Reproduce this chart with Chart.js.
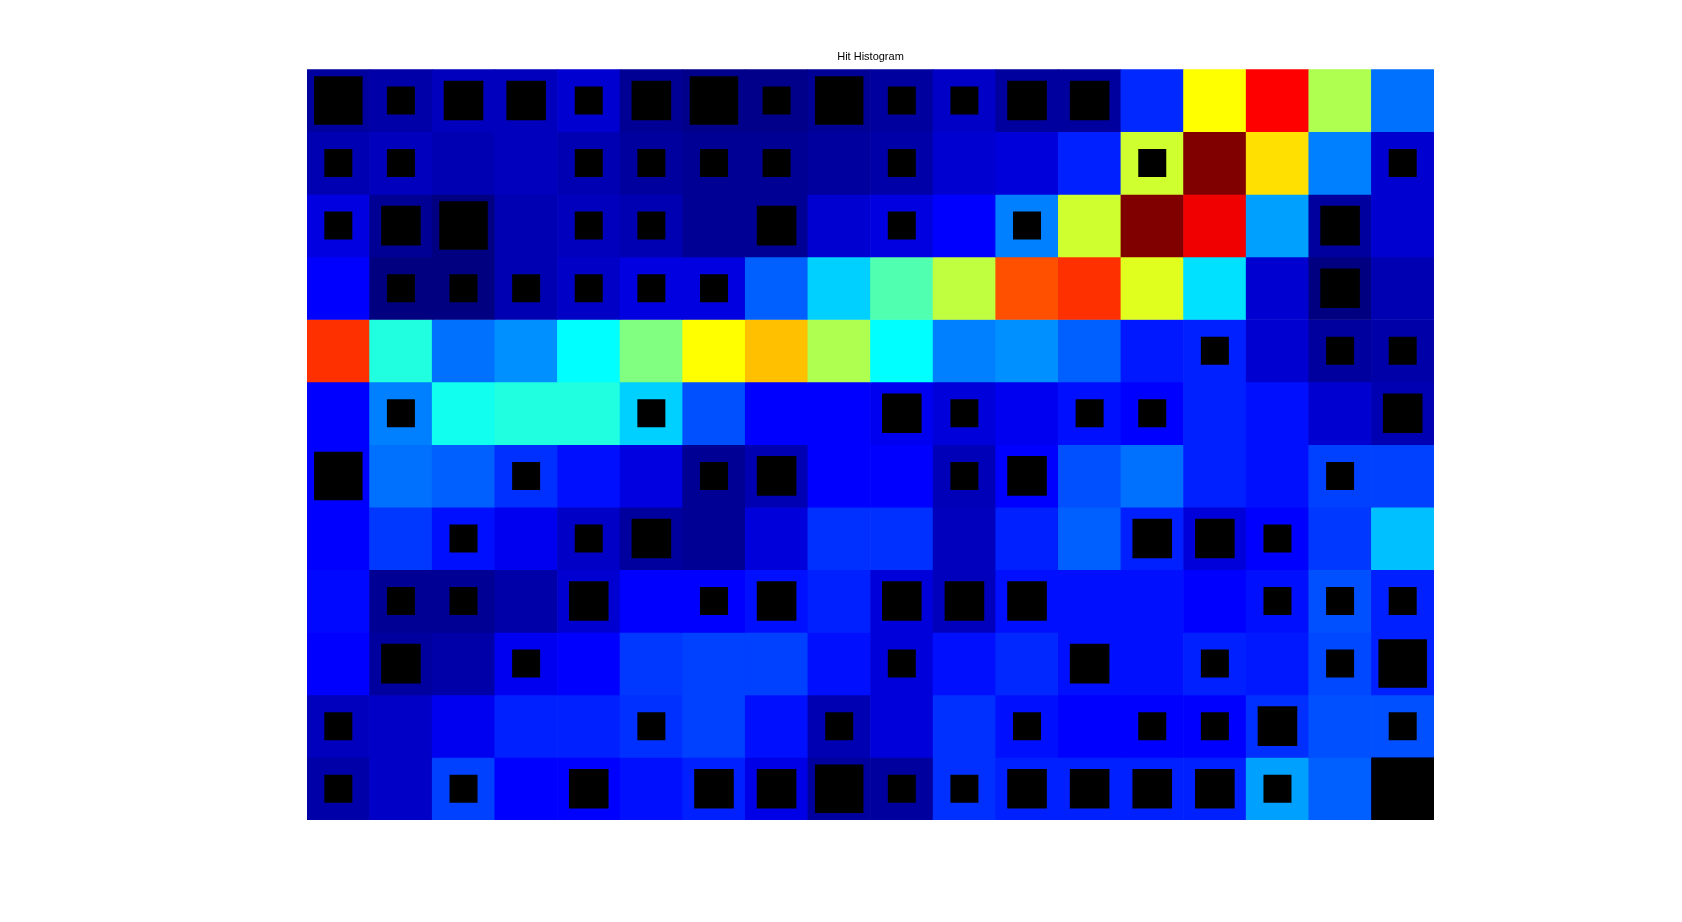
<!DOCTYPE html>
<html>
<head>
<meta charset="utf-8">
<title>Hit Histogram</title>
<script src="https://cdn.jsdelivr.net/npm/chart.js@4.4.0/dist/chart.umd.min.js"></script>
<style>
  html, body { margin: 0; padding: 0; background: #fff; }
  #wrap { width: 1682px; height: 922px; }
</style>
</head>
<body>
<div id="wrap"><canvas id="hitChart" width="1682" height="922"></canvas></div>
<script>
// map columns, left to right
var columns = ['1','2','3','4','5','6','7','8','9','10','11','12','13','14','15','16','17','18'];

// background value of each unit on the jet colour map (0 = dark blue, 1 = dark red), top row first
var shade = [
  [0.03,0.04,0.06,0.06,0.08,0.02,0.01,0.01,0.02,0.03,0.07,0.03,0.03,0.164,0.625,0.875,0.547,0.235],
  [0.05,0.06,0.05,0.06,0.05,0.03,0.02,0.02,0.03,0.04,0.08,0.09,0.156,0.579,1.0,0.655,0.25,0.08],
  [0.095,0.02,0.0,0.05,0.06,0.05,0.02,0.02,0.08,0.095,0.125,0.25,0.579,1.0,0.89,0.282,0.03,0.08],
  [0.125,0.0,0.0,0.05,0.07,0.095,0.095,0.219,0.329,0.453,0.563,0.797,0.828,0.595,0.345,0.08,0.0,0.05],
  [0.828,0.406,0.235,0.266,0.375,0.5,0.625,0.687,0.547,0.375,0.25,0.266,0.219,0.149,0.156,0.08,0.03,0.04],
  [0.125,0.25,0.391,0.406,0.406,0.329,0.203,0.125,0.125,0.11,0.09,0.11,0.141,0.125,0.156,0.141,0.08,0.05],
  [0.125,0.235,0.219,0.172,0.141,0.095,0.02,0.05,0.125,0.125,0.055,0.125,0.203,0.235,0.156,0.141,0.188,0.188],
  [0.125,0.18,0.141,0.11,0.07,0.03,0.02,0.09,0.172,0.172,0.06,0.156,0.219,0.156,0.09,0.125,0.18,0.313],
  [0.133,0.02,0.02,0.04,0.08,0.125,0.125,0.141,0.156,0.09,0.06,0.141,0.141,0.141,0.125,0.141,0.203,0.156],
  [0.125,0.03,0.04,0.11,0.125,0.18,0.188,0.188,0.141,0.09,0.141,0.164,0.141,0.141,0.156,0.149,0.196,0.156],
  [0.06,0.07,0.11,0.156,0.156,0.172,0.188,0.141,0.05,0.09,0.172,0.141,0.125,0.125,0.125,0.172,0.203,0.203],
  [0.04,0.07,0.188,0.125,0.125,0.141,0.156,0.10,0.03,0.03,0.172,0.156,0.156,0.156,0.156,0.282,0.219,0.03]
];

// number of hits per unit, top row first
var hits = [
  [3,1,2,2,1,2,3,1,3,1,1,2,2,0,0,0,0,0],
  [1,1,0,0,1,1,1,1,0,1,0,0,0,1,0,0,0,1],
  [1,2,3,0,1,1,0,2,0,1,0,1,0,0,0,0,2,0],
  [0,1,1,1,1,1,1,0,0,0,0,0,0,0,0,0,2,0],
  [0,0,0,0,0,0,0,0,0,0,0,0,0,0,1,0,1,1],
  [0,1,0,0,0,1,0,0,0,2,1,0,1,1,0,0,0,2],
  [3,0,0,1,0,0,1,2,0,0,1,2,0,0,0,0,1,0],
  [0,0,1,0,1,2,0,0,0,0,0,0,0,2,2,1,0,0],
  [0,1,1,0,2,0,1,2,0,2,2,2,0,0,0,1,1,1],
  [0,2,0,1,0,0,0,0,0,1,0,0,2,0,1,0,1,3],
  [1,0,0,0,0,1,0,0,1,0,0,1,0,1,1,2,0,1],
  [1,0,1,0,2,0,2,2,3,1,1,2,2,2,2,1,0,5]
];

function jet(v) {
  var c = function (x) { return Math.round(255 * Math.max(0, Math.min(1, x))); };
  var r = c(1.5 - Math.abs(4 * v - 3));
  var g = c(1.5 - Math.abs(4 * v - 2));
  var b = c(1.5 - Math.abs(4 * v - 1));
  return 'rgb(' + r + ',' + g + ',' + b + ')';
}

var maxHits = Math.max.apply(null, hits.map(function (r) { return Math.max.apply(null, r); }));

// one floating-bar dataset per map row
var datasets = shade.map(function (rowVals, r) {
  return {
    type: 'bar',
    data: columns.map(function () { return [r, r + 1]; }),
    backgroundColor: rowVals.map(jet),
    borderWidth: 0,
    grouped: false,
    barPercentage: 1,
    categoryPercentage: 1,
    order: 2
  };
});

// black squares, area proportional to hits
var hitPoints = [];
hits.forEach(function (rowVals, r) {
  rowVals.forEach(function (h, c) {
    if (h > 0) hitPoints.push({ x: columns[c], y: r + 0.5, h: h });
  });
});

datasets.push({
  type: 'scatter',
  data: hitPoints,
  pointStyle: 'rect',
  backgroundColor: '#000',
  borderWidth: 0,
  order: 1,
  pointRadius: function (ctx) {
    var area = ctx.chart.chartArea;
    if (!area || !ctx.raw) return 0;
    var cell = (area.right - area.left) / columns.length;
    return Math.sqrt(ctx.raw.h / maxHits) * cell / Math.SQRT2;
  }
});

var ctx = document.getElementById('hitChart').getContext('2d');
var hitChart = new Chart(ctx, {
  type: 'bar',
  data: { labels: columns, datasets: datasets },
  options: {
    responsive: false,
    animation: false,
    events: [],
    layout: { padding: { left: 307, right: 248, top: 0, bottom: 102 } },
    scales: {
      x: { type: 'category', display: false, offset: true },
      y: { type: 'linear', display: false, min: 0, max: shade.length, reverse: true }
    },
    plugins: {
      legend: { display: false },
      tooltip: { enabled: false },
      title: {
        display: true,
        text: 'Hit Histogram',
        color: '#000',
        font: { family: 'Liberation Sans, Arial, sans-serif', size: 11, weight: 'normal' },
        padding: { top: 50, bottom: 6 }
      }
    }
  }
});
</script>
</body>
</html>
